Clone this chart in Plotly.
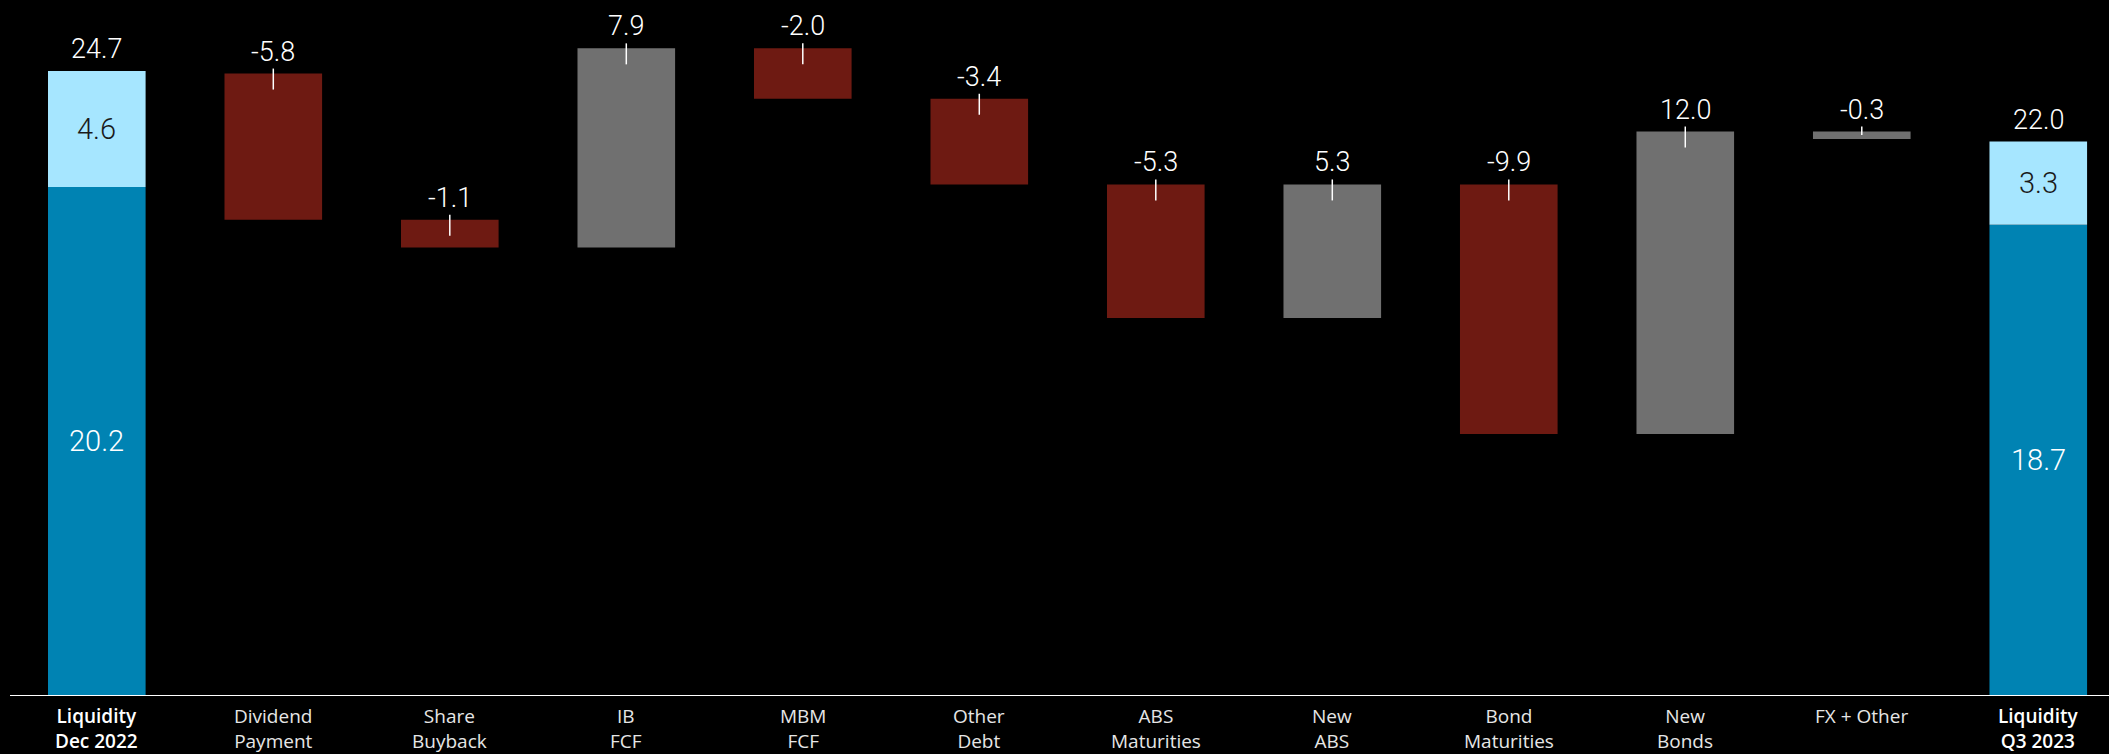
import plotly.graph_objects as go

# ---- data ----
categories = ["Liquidity<br>Dec 2022", "Dividend<br>Payment", "Share<br>Buyback", "IB<br>FCF",
              "MBM<br>FCF", "Other<br>Debt", "ABS<br>Maturities", "New<br>ABS", "Bond<br>Maturities",
              "New<br>Bonds", "FX + Other", "Liquidity<br>Q3 2023"]
start_lower = 20.2
start_upper = 4.6
start_total = 24.7
changes = [-5.8, -1.1, 7.9, -2.0, -3.4, -5.3, 5.3, -9.9, 12.0, -0.3]
end_lower = 18.7
end_upper = 3.3
end_total = 22.0

# ---- styles ----
DARK_BLUE = "#0083B3"
LIGHT_BLUE = "#A6E6FF"
RED = "#6E1A12"
GRAY = "#707070"
change_colors = [RED, RED, GRAY, RED, RED, RED, GRAY, RED, GRAY, GRAY]
PX_PER_UNIT = 25.2
VAL_FONT = dict(family="Roboto", size=27, color="white", weight=300)

n = len(categories)
fig = go.Figure()

# total bars (stacked)
fig.add_bar(x=[0, n - 1], y=[start_lower, end_lower], base=[0, 0], width=0.553,
            marker=dict(color=DARK_BLUE, line=dict(width=0)), showlegend=False, hoverinfo="skip")
fig.add_bar(x=[0, n - 1], y=[start_upper, end_upper], base=[start_lower, end_lower], width=0.553,
            marker=dict(color=LIGHT_BLUE, line=dict(width=0)), showlegend=False, hoverinfo="skip")

# floating change bars
bx, by, bb = [], [], []
tops, bottoms = [], []
level = start_total
for i, c in enumerate(changes):
    new = level + c
    lo, hi = min(level, new), max(level, new)
    bx.append(i + 1)
    by.append(hi - lo)
    bb.append(lo)
    tops.append(hi)
    bottoms.append(lo)
    level = new
fig.add_bar(x=bx, y=by, base=bb, width=0.553,
            marker=dict(color=change_colors, line=dict(width=0)), showlegend=False, hoverinfo="skip")

annotations = []
shapes = []
# value labels over totals
for xi, tot, lo, up in [(0, start_total, start_lower, start_upper), (n - 1, end_total, end_lower, end_upper)]:
    annotations.append(dict(x=xi, y=lo + up, text=f"{tot:.1f}", showarrow=False, yanchor="bottom",
                            yshift=4, font=VAL_FONT))
    annotations.append(dict(x=xi, y=lo / 2, text=f"{lo:.1f}", showarrow=False,
                            font=dict(family="Roboto", size=29, color="white", weight=300)))
    annotations.append(dict(x=xi, y=lo + up / 2, text=f"{up:.1f}", showarrow=False,
                            font=dict(family="Roboto", size=29, color="#1a1a1a", weight=300)))

# value labels + tick marks over changes
for xi, c, hi, lo in zip(bx, changes, tops, bottoms):
    annotations.append(dict(x=xi, y=hi, text=f"{c:.1f}", showarrow=False, yanchor="bottom",
                            yshift=4, font=VAL_FONT))
    y0 = hi + 5 / PX_PER_UNIT
    y1 = max(hi - 16 / PX_PER_UNIT, lo + 4 / PX_PER_UNIT)
    shapes.append(dict(type="line", xref="x", yref="y", x0=xi, x1=xi, y0=y0, y1=y1,
                       line=dict(color="white", width=1.5)))

# category labels
for i, cat in enumerate(categories):
    bold = i in (0, n - 1)
    annotations.append(dict(x=i, y=0, yref="paper", text=cat,
                            showarrow=False, yanchor="top", yshift=-5,
                            font=dict(family="Open Sans", size=19, weight=600 if bold else 400,
                                      color="#FFFFFF" if bold else "#E6E6E6")))

# baseline
shapes.append(dict(type="line", xref="paper", yref="y", x0=0, x1=1, y0=0, y1=0,
                   line=dict(color="white", width=2)))

fig.update_layout(
    width=2109, height=754,
    margin=dict(l=10, r=0, t=0, b=58),
    paper_bgcolor="black", plot_bgcolor="black",
    barmode="overlay",
    xaxis=dict(range=[-0.4918, 11.4007], showgrid=False, zeroline=False, showticklabels=False,
               ticks=""),
    yaxis=dict(range=[0, 696 / PX_PER_UNIT], showgrid=False, zeroline=False, showticklabels=False,
               ticks=""),
    annotations=annotations, shapes=shapes,
)

fig.write_html("out.html")
